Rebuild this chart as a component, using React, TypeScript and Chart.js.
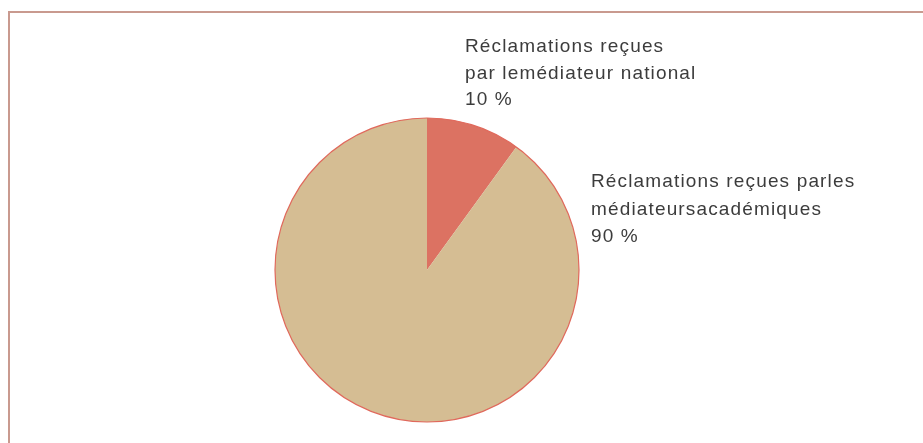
import React, { useEffect, useRef } from "react";
import { Chart, registerables } from "chart.js";

Chart.register(...registerables);

const categories = [
  ["Réclamations reçues", "par lemédiateur national", "10 %"],
  ["Réclamations reçues parles", "médiateursacadémiques", "90 %"],
];
const values = [10, 90];
const colors = ["#dc7262", "#d5bd93"];

const labelOffsets = [
  { dx: 38, dy: -218, lh: 26.5 },
  { dx: 164, dy: -83, lh: 27.5 },
];

const framePlugin = {
  id: "frame",
  beforeDraw(chart: any) {
    const ctx = chart.ctx;
    ctx.save();
    ctx.fillStyle = "#ffffff";
    ctx.fillRect(0, 0, chart.width, chart.height);
    ctx.strokeStyle = "#c99a8f";
    ctx.lineWidth = 2;
    ctx.beginPath();
    ctx.moveTo(9, chart.height);
    ctx.lineTo(9, 12);
    ctx.lineTo(chart.width, 12);
    ctx.stroke();
    ctx.restore();
  },
  afterDatasetsDraw(chart: any) {
    const ctx = chart.ctx;
    const meta = chart.getDatasetMeta(0);
    const arc = meta.data[0];
    if (!arc) return;
    const { x, y, outerRadius } = arc.getProps(["x", "y", "outerRadius"], true);
    ctx.save();
    ctx.strokeStyle = "#e0695c";
    ctx.lineWidth = 1.2;
    ctx.beginPath();
    ctx.arc(x, y, outerRadius, 0, Math.PI * 2);
    ctx.stroke();
    ctx.fillStyle = "#3c3c3c";
    ctx.font = "19px 'Liberation Sans', Arial, sans-serif";
    (ctx as any).letterSpacing = "1.15px";
    ctx.textBaseline = "alphabetic";
    ctx.textAlign = "left";
    categories.forEach((lines, i) => {
      const o = labelOffsets[i];
      lines.forEach((line, j) => {
        ctx.fillText(line, x + o.dx, y + o.dy + j * o.lh);
      });
    });
    ctx.restore();
  },
};

export default function App() {
  const ref = useRef<HTMLCanvasElement>(null);
  useEffect(() => {
    document.body.style.margin = "0";
    document.body.style.overflow = "hidden";
    const chart = new Chart(ref.current!, {
      type: "pie",
      data: {
        labels: categories.map((c) => c.slice(0, 2).join(" ")),
        datasets: [
          {
            data: values,
            backgroundColor: colors,
            borderWidth: 0,
          },
        ],
      },
      options: {
        animation: false,
        responsive: false,
        layout: { padding: { top: 118, bottom: 21, left: 0, right: 69 } },
        plugins: {
          legend: { display: false },
          tooltip: { enabled: false },
        },
      },
      plugins: [framePlugin],
    });
    return () => chart.destroy();
  }, []);
  return (
    <div style={{ position: "fixed", left: 0, top: 0, width: 923, height: 443 }}>
      <canvas ref={ref} width={923} height={443} style={{ width: 923, height: 443 }} />
    </div>
  );
}
